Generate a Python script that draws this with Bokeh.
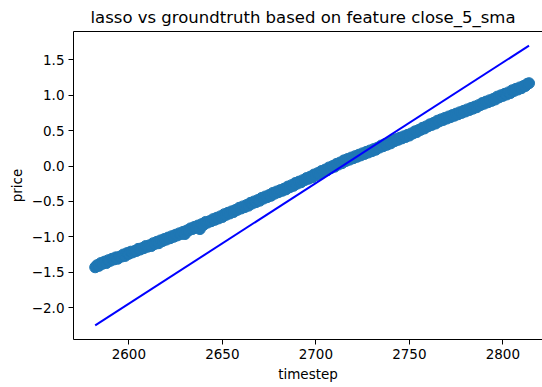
from bokeh.plotting import figure
from bokeh.models import ColumnDataSource, FixedTicker, LinearAxis, Range1d
from bokeh.embed import file_html
from bokeh.resources import INLINE

# timesteps of the test window
timestep = list(range(2582, 2815))

# lasso predictions (scaled price) per timestep
lasso_pred = [
    -1.43, -1.40, -1.41, -1.37, -1.38, -1.35, -1.37, -1.33, -1.34, -1.31,
    -1.32, -1.29, -1.31, -1.28, -1.28, -1.25, -1.27, -1.23, -1.24, -1.21,
    -1.22, -1.20, -1.20, -1.17, -1.18, -1.16, -1.16, -1.13, -1.14, -1.12,
    -1.13, -1.09, -1.10, -1.07, -1.09, -1.05, -1.06, -1.03, -1.04, -1.01,
    -1.02, -0.99, -1.00, -0.97, -0.98, -0.95, -0.96, -0.93, -0.96, -0.91,
    -0.91, -0.88, -0.89, -0.86, -0.87, -0.84, -0.89, -0.82, -0.83, -0.79,
    -0.80, -0.78, -0.78, -0.75, -0.76, -0.73, -0.74, -0.71, -0.72, -0.68,
    -0.69, -0.66, -0.67, -0.64, -0.65, -0.62, -0.62, -0.59, -0.60, -0.57,
    -0.58, -0.55, -0.56, -0.52, -0.53, -0.50, -0.51, -0.48, -0.49, -0.45,
    -0.46, -0.43, -0.44, -0.41, -0.42, -0.38, -0.39, -0.36, -0.37, -0.34,
    -0.35, -0.32, -0.33, -0.29, -0.30, -0.27, -0.28, -0.24, -0.25, -0.22,
    -0.23, -0.20, -0.20, -0.17, -0.18, -0.15, -0.16, -0.12, -0.13, -0.10,
    -0.11, -0.07, -0.08, -0.05, -0.06, -0.02, -0.03, 0.00, -0.01, 0.03,
    0.02, 0.05, 0.04, 0.08, 0.07, 0.10, 0.09, 0.12, 0.11, 0.14,
    0.13, 0.16, 0.15, 0.18, 0.17, 0.20, 0.19, 0.22, 0.21, 0.24,
    0.23, 0.26, 0.26, 0.29, 0.28, 0.31, 0.30, 0.33, 0.32, 0.36,
    0.35, 0.38, 0.37, 0.40, 0.39, 0.42, 0.41, 0.44, 0.43, 0.46,
    0.46, 0.49, 0.48, 0.51, 0.51, 0.54, 0.53, 0.56, 0.56, 0.59,
    0.58, 0.61, 0.60, 0.64, 0.63, 0.66, 0.65, 0.68, 0.67, 0.70,
    0.69, 0.72, 0.71, 0.74, 0.73, 0.76, 0.75, 0.78, 0.77, 0.80,
    0.79, 0.82, 0.81, 0.84, 0.83, 0.86, 0.86, 0.89, 0.88, 0.91,
    0.90, 0.93, 0.92, 0.95, 0.94, 0.98, 0.97, 1.00, 0.99, 1.02,
    1.01, 1.04, 1.03, 1.07, 1.06, 1.09, 1.08, 1.11, 1.10, 1.13,
    1.13, 1.16, 1.17,
]

# groundtruth line endpoints
truth_t = [2582, 2814]
truth_price = [-2.25, 1.70]

x_ticks = [2600, 2650, 2700, 2750, 2800]
y_ticks = [-2.0, -1.5, -1.0, -0.5, 0.0, 0.5, 1.0, 1.5]
y_tick_labels = ["\u22122.0", "\u22121.5", "\u22121.0", "\u22120.5", "0.0", "0.5", "1.0", "1.5"]

FONT = "DejaVu Sans"

p = figure(
    width=542, height=387,
    output_backend="svg", toolbar_location=None,
    x_range=Range1d(2570.4, 2821.2), y_range=Range1d(-2.45, 1.90),
    min_border_left=73, min_border_right=0, min_border_top=30, min_border_bottom=48,
    title="lasso vs groundtruth based on feature close_5_sma",
)
p.title.align = "left"
p.title.offset = 17
p.title.text_font = FONT
p.title.text_font_size = "16.5px"
p.title.text_font_style = "normal"
p.title.text_color = "#000000"

p.outline_line_color = None
p.xgrid.visible = False
p.ygrid.visible = False
p.background_fill_color = "white"
p.border_fill_color = "white"

src = ColumnDataSource(dict(t=timestep, y=lasso_pred))
p.scatter("t", "y", source=src, size=11, fill_color="#1f77b4", line_color="#1f77b4")
p.line(truth_t, truth_price, line_color="#0000ff", line_width=2)

for ax in (p.xaxis[0], p.yaxis[0]):
    ax.axis_line_color = "#000000"
    ax.axis_line_width = 1
    ax.major_tick_line_color = "#000000"
    ax.major_tick_line_width = 1
    ax.major_tick_in = 0
    ax.major_tick_out = 5
    ax.minor_tick_line_color = None
    ax.major_label_text_font = FONT
    ax.major_label_text_font_size = "13.5px"
    ax.major_label_text_color = "#000000"
    ax.axis_label_text_font = FONT
    ax.axis_label_text_font_size = "13.5px"
    ax.axis_label_text_font_style = "normal"
    ax.axis_label_text_color = "#000000"
    ax.major_label_standoff = 4
    ax.axis_label_standoff = 4

p.xaxis[0].ticker = FixedTicker(ticks=x_ticks)
p.xaxis[0].axis_label = "timestep"
p.yaxis[0].ticker = FixedTicker(ticks=y_ticks)
p.yaxis[0].major_label_overrides = {v: s for v, s in zip(y_ticks, y_tick_labels)}
p.yaxis[0].axis_label = "price"

# top spine
top = LinearAxis(ticker=FixedTicker(ticks=[]), major_label_text_font_size="0px",
                 axis_line_color="#000000", axis_line_width=1,
                 major_tick_line_color=None, minor_tick_line_color=None)
p.add_layout(top, "above")

open("out.html", "w").write(file_html(p, INLINE))
